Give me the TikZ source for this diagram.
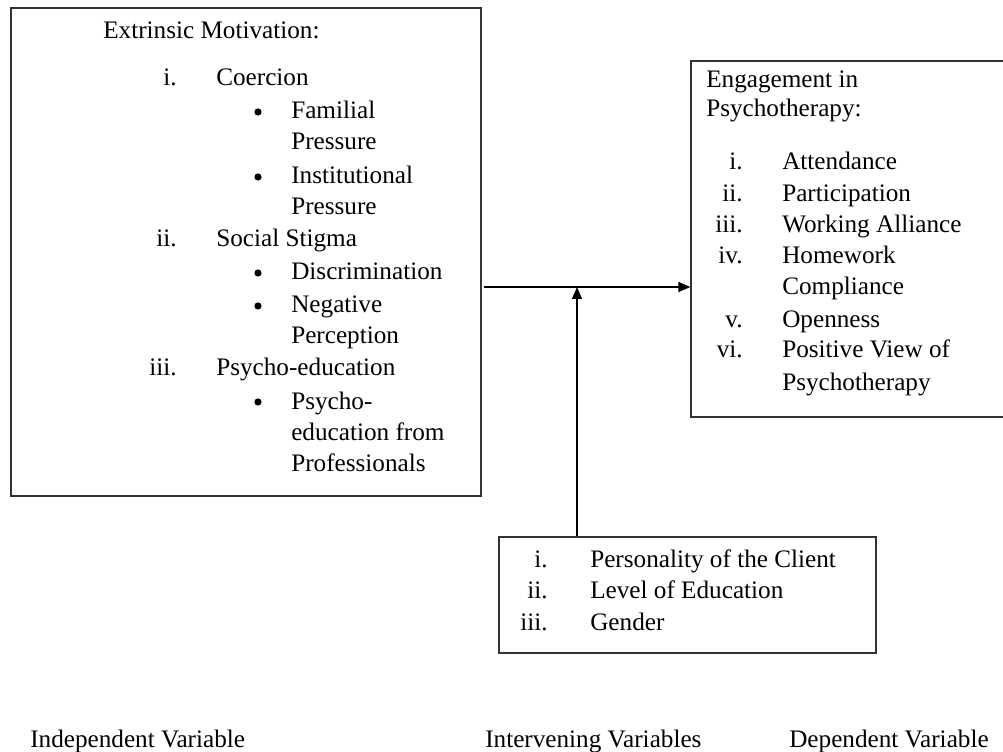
\documentclass[tikz,border=0pt]{standalone}
\usepackage{fontspec}
\setmainfont{Liberation Serif}
\usetikzlibrary{arrows.meta,fit}
\begin{document}
\begin{tikzpicture}[x=0.75pt,y=-0.75pt,
  fnt/.style={font=\fontsize{18.9}{24}\selectfont},
  txt/.style={fnt,anchor=base west,inner sep=0pt},
  num/.style={fnt,anchor=base east,inner sep=0pt},
  bul/.style={circle,fill=black,inner sep=0pt,minimum size=5.4pt},
  box/.style={draw=black!80,line width=1pt,inner sep=0pt},
  conn/.style={draw=black,line width=1pt,-{Triangle[length=9pt,width=7.5pt]}}]
\useasboundingbox (0,0) rectangle (1003,752);
% boxes
\node[box,fit={(11,8) (481,496)}] (iv) {};
\node[box,fit={(691,61) (1012,417)}] (dv) {};
\node[box,fit={(499,537) (876,653)}] (mv) {};
% independent variable box text
\node[txt] (t0) at (103,39) {Extrinsic Motivation:};
\node[num] (n1) at (177,86) {i.};
\node[txt] (a1) at (216,86) {Coercion};
\node[bul] (b1) at (258,112) {};
\node[txt] (a2) at (291,119) {Familial};
\node[txt] (a3) at (291,150) {Pressure};
\node[bul] (b2) at (258,177) {};
\node[txt] (a4) at (291,184) {Institutional};
\node[txt] (a5) at (291,215) {Pressure};
\node[num] (n2) at (177,247) {ii.};
\node[txt] (a6) at (216,247) {Social Stigma};
\node[bul] (b3) at (258,273) {};
\node[txt] (a7) at (291,280) {Discrimination};
\node[bul] (b4) at (258,306) {};
\node[txt] (a8) at (291,313) {Negative};
\node[txt] (a9) at (291,344) {Perception};
\node[num] (n3) at (177,375) {iii.};
\node[txt] (a10) at (216,375) {Psycho-education};
\node[bul] (b5) at (258,402) {};
\node[txt] (a11) at (291,409) {Psycho-};
\node[txt] (a12) at (291,440) {education from};
\node[txt] (a13) at (291,471) {Professionals};
% dependent variable box text
\node[txt] (d0) at (706,88) {Engagement in};
\node[txt] (d1) at (706,117) {Psychotherapy:};
\node[num] (m1) at (743,170) {i.};
\node[txt] (e1) at (782,170) {Attendance};
\node[num] (m2) at (743,202) {ii.};
\node[txt] (e2) at (782,202) {Participation};
\node[num] (m3) at (743,233) {iii.};
\node[txt] (e3) at (782,233) {Working Alliance};
\node[num] (m4) at (743,264) {iv.};
\node[txt] (e4) at (782,264) {Homework};
\node[txt] (e5) at (782,295) {Compliance};
\node[num] (m5) at (743,327) {v.};
\node[txt] (e6) at (782,327) {Openness};
\node[num] (m6) at (743,358) {vi.};
\node[txt] (e7) at (782,358) {Positive View of};
\node[txt] (e8) at (782,390) {Psychotherapy};
% intervening variables box text
\node[num] (p1) at (548,567) {i.};
\node[txt] (q1) at (590,567) {Personality of the Client};
\node[num] (p2) at (548,598) {ii.};
\node[txt] (q2) at (590,598) {Level of Education};
\node[num] (p3) at (548,630) {iii.};
\node[txt] (q3) at (590,630) {Gender};
% bottom labels
\node[txt] (l1) at (30,747) {Independent Variable};
\node[txt] (l2) at (485,747) {Intervening Variables};
\node[txt] (l3) at (789,747) {Dependent Variable};
% connectors
\coordinate (s) at (484,287);
\coordinate (j) at (577,287);
\draw[conn] (s) -- (s -| dv.west);
\draw[conn] (mv.north -| j) -- (j);
\end{tikzpicture}
\end{document}
